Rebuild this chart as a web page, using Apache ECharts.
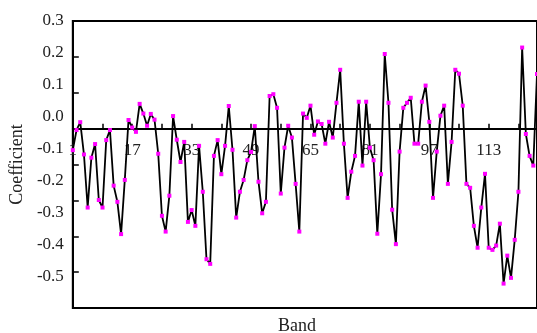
<!DOCTYPE html>
<html><head><meta charset="utf-8">
<script src="https://cdn.jsdelivr.net/npm/echarts@6/dist/echarts.min.js"></script>
<style>html,body{margin:0;padding:0;background:#fff}#c{width:537px;height:333px}</style>
</head><body><div id="c"></div>
<script>
// Band numbers (categories)
const bands = [];
for (let b = 1; b <= 126; b++) bands.push(String(b));

// Coefficient per band
const coefficients = [
 -0.060, -0.004, 0.018, -0.072, -0.220, -0.081, -0.043, -0.199, -0.220, -0.032,
 -0.004, -0.159, -0.204, -0.294, -0.143, 0.024, 0.003, -0.009, 0.069, 0.042,
 0.008, 0.041, 0.025, -0.070, -0.243, -0.287, -0.187, 0.035, -0.031, -0.093,
 -0.037, -0.260, -0.227, -0.271, -0.048, -0.176, -0.364, -0.377, -0.076, -0.032,
 -0.127, -0.048, 0.063, -0.059, -0.248, -0.176, -0.143, -0.088, -0.065, 0.007,
 -0.148, -0.236, -0.204, 0.091, 0.096, 0.058, -0.181, -0.053, 0.008, -0.025,
 -0.154, -0.287, 0.042, 0.030, 0.064, -0.017, 0.020, 0.013, -0.042, 0.019,
 -0.025, 0.072, 0.164, -0.042, -0.193, -0.120, -0.076, 0.075, -0.103, 0.075,
 -0.053, -0.088, -0.293, -0.127, 0.208, 0.072, -0.226, -0.322, -0.064, 0.058,
 0.072, 0.086, -0.042, -0.042, 0.075, 0.120, 0.019, -0.193, -0.064, 0.036,
 0.064, -0.154, -0.037, 0.164, 0.153, 0.064, -0.154, -0.165, -0.271, -0.332,
 -0.220, -0.126, -0.332, -0.338, -0.326, -0.265, -0.432, -0.354, -0.416, -0.310,
 -0.176, 0.226, -0.015, -0.076, -0.103, 0.152
];

// Y tick label texts (as printed in the figure)
const yLabelTexts = ['-0.5', '-0.4', '-0.3', '-0.2', '-0.1', '0.0', '0.1', '0.2', '0.3'];

const FONT = "'Liberation Serif', 'Times New Roman', serif";
const TXT = '#222';
const Y_MIN = -0.5, Y_MAX = 0.3;
const GRID_TOP = 21, GRID_BOTTOM = 25, H = 333;
const plotH = H - GRID_TOP - GRID_BOTTOM;
// distance from grid bottom up to the zero line
const zeroOffset = plotH * (0 - Y_MIN) / (Y_MAX - Y_MIN);

const chart = echarts.init(document.getElementById('c'), null, {renderer: 'canvas'});
chart.setOption({
  animation: false,
  backgroundColor: '#fff',
  title: {
    text: 'Band', left: 278, top: 317, padding: 0,
    textStyle: {fontFamily: FONT, fontSize: 18, fontWeight: 'normal', color: TXT}
  },
  grid: {
    left: 72, right: -1, top: GRID_TOP, bottom: GRID_BOTTOM,
    show: true, borderColor: '#000', borderWidth: 2, backgroundColor: 'transparent'
  },
  xAxis: {
    type: 'category', data: bands, boundaryGap: false, position: 'bottom',
    offset: -zeroOffset,
    axisLine: {onZero: false, lineStyle: {color: '#000', width: 2}},
    axisTick: {inside: true, length: 5, interval: 7, lineStyle: {color: '#000', width: 1.5}},
    axisLabel: {interval: 15, margin: 13, color: TXT, fontFamily: FONT, fontSize: 17},
    splitLine: {show: false}
  },
  yAxis: [
    {
      type: 'value', min: Y_MIN, max: Y_MAX, interval: 0.1,
      axisLine: {show: true, lineStyle: {color: '#000', width: 2}},
      axisTick: {show: true, inside: true, length: 6, lineStyle: {color: '#000', width: 1.5}},
      axisLabel: {show: false},
      splitLine: {show: false}
    },
    {
      type: 'value', min: 0, max: 9, interval: 1, position: 'left',
      axisLine: {show: false}, axisTick: {show: false}, splitLine: {show: false},
      axisLabel: {
        margin: 9, color: TXT, fontFamily: FONT, fontSize: 17,
        formatter: function (v) { return v >= 1 ? yLabelTexts[Math.round(v) - 1] : ''; }
      },
      name: 'Coefficient', nameLocation: 'middle', nameGap: 45, nameRotate: 90,
      nameTextStyle: {fontFamily: FONT, fontSize: 18, color: TXT}
    }
  ],
  series: [{
    type: 'line', data: coefficients, yAxisIndex: 0, z: 3,
    symbol: 'rect', symbolSize: 4, showSymbol: true, showAllSymbol: true,
    lineStyle: {color: '#000', width: 1.8},
    itemStyle: {color: '#ff00ff', borderWidth: 0}
  }]
});
</script>
</body></html>
